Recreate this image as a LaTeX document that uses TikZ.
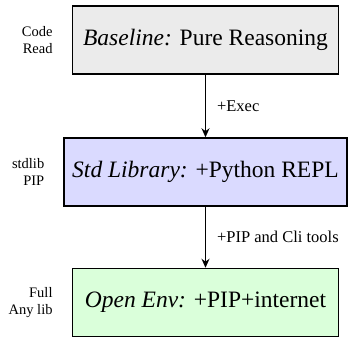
\documentclass[tikz,border=0pt]{standalone}
\usepackage{fontspec}
\setmainfont{Liberation Serif}
\usetikzlibrary{arrows.meta}
\begin{document}
\begin{tikzpicture}[x=1bp,y=-1bp,
  stage/.style={draw=black, line width=1.5bp, minimum width=266bp, minimum height=68bp, inner sep=8bp, font=\fontsize{23.5bp}{28bp}\selectfont},
  side/.style={align=right, anchor=east, inner sep=2bp, font=\fontsize{14.5bp}{17bp}\selectfont},
  flow/.style={-{Stealth[length=9bp,width=8bp]}, line width=1.2bp},
  lbl/.style={font=\fontsize{16.5bp}{19bp}\selectfont, anchor=west, inner sep=2bp, xshift=9bp}]
\useasboundingbox (0,0) rectangle (354,339);
\node[stage, fill={rgb,255:red,235;green,235;blue,235}] (b1) at (205.5,40) {\textit{Baseline:} Pure Reasoning};
\node[stage, fill={rgb,255:red,218;green,218;blue,255}] (b2) at (205.5,172) {\textit{Std Library:} +Python REPL};
\node[stage, fill={rgb,255:red,218;green,255;blue,218}] (b3) at (205.5,302.5) {\textit{Open Env:} +PIP+internet};
\node[side] (s1) at ([xshift=-17bp]b1.west) {Code\\Read};
\node[side] (s2) at ([xshift=-17bp]b2.west) {stdlib\\PIP};
\node[side] (s3) at ([xshift=-17bp]b3.west) {Full\\Any lib};
\draw[flow] (b1) -- node[lbl] (e1) {+Exec} (b2);
\draw[flow] (b2) -- node[lbl] (e2) {+PIP and Cli tools} (b3);
\end{tikzpicture}
\end{document}
